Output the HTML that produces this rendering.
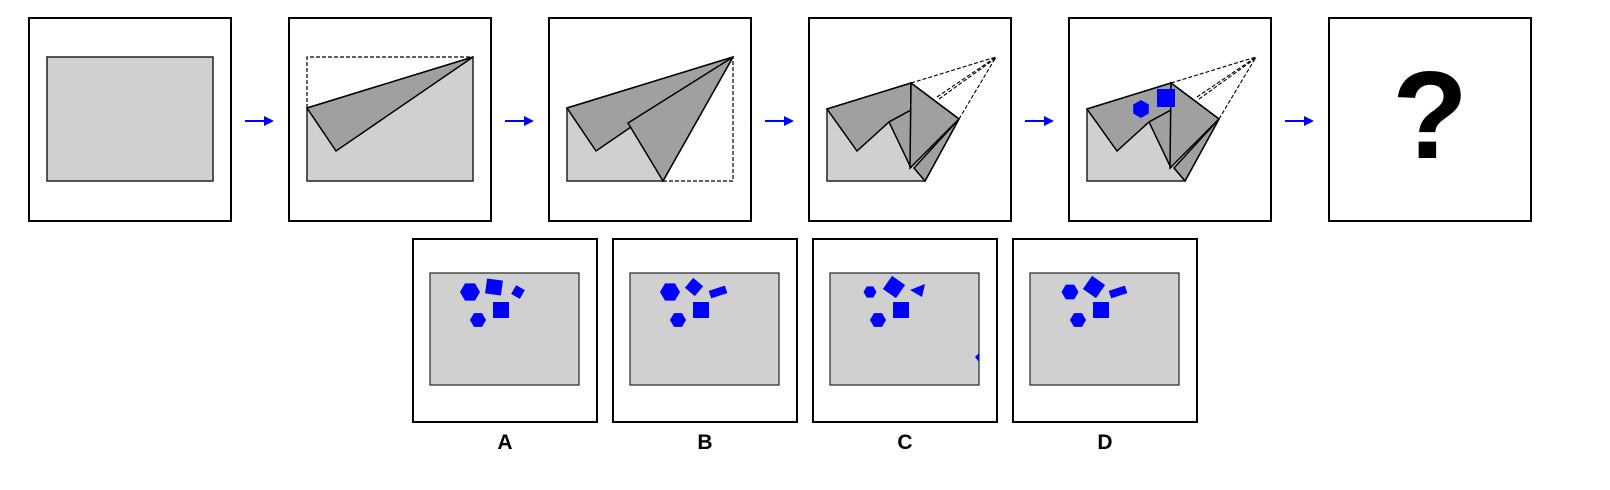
<!DOCTYPE html>
<html><head><meta charset="utf-8"><style>
html,body{margin:0;padding:0;background:#fff;width:1610px;height:490px;overflow:hidden}
svg{display:block}
text{font-family:"Liberation Sans",sans-serif;font-weight:bold}
</style></head><body>
<svg width="1610" height="490" viewBox="0 0 1610 490" id="fig">
<defs>
<marker id="ah" markerWidth="10" markerHeight="10" refX="8" refY="5" orient="auto" markerUnits="userSpaceOnUse"><path d="M0,0 L10,5 L0,10 z" fill="#0000ff"/></marker>
</defs>
<g id="topg"></g>
<g id="bottomg"></g>
</svg>
<script>
const NS='http://www.w3.org/2000/svg';
const topG=document.getElementById('topg'), botG=document.getElementById('bottomg');
function mk(tag,attrs,parent){const e=document.createElementNS(NS,tag);for(const k in attrs)e.setAttribute(k,attrs[k]);parent.appendChild(e);return e;}
function pts(ox,oy,arr){return arr.map(p=>(ox+p[0])+','+(oy+p[1])).join(' ');}
const LIGHT='#d0d0d0', DARK='#a0a0a0';
const panelX=[29,289,549,809,1069,1329];
panelX.forEach((px,i)=>{
  const g=mk('g',{},topG);
  
  
  mk('rect',{x:px,y:18,width:202,height:203,fill:'#fff',stroke:'#000','stroke-width':2},g);
  const ox=px+18, oy=57, W=166, H=124;
  if(i===0){mk('rect',{x:ox,y:oy,width:W,height:H,fill:LIGHT,stroke:'#222','stroke-width':1.5},g);}
  if(i===1){
    mk('polygon',{points:pts(ox,oy,[[0,51],[W,0],[W,H],[0,H]]),fill:LIGHT,stroke:'#222','stroke-width':1.5},g);
    mk('polyline',{points:pts(ox,oy,[[0,51],[0,0],[W,0]]),fill:'none',stroke:'#000','stroke-dasharray':'4,2','stroke-width':1.2},g);
    mk('polygon',{points:pts(ox,oy,[[0,51],[W,0],[29,94]]),fill:DARK,stroke:'#000','stroke-width':1.5},g);
  }
  if(i===2){
    mk('polygon',{points:pts(ox,oy,[[0,51],[W,0],[96,H],[0,H]]),fill:LIGHT,stroke:'#222','stroke-width':1.5},g);
    mk('polyline',{points:pts(ox,oy,[[96,H],[W,H],[W,0]]),fill:'none',stroke:'#000','stroke-dasharray':'4,2','stroke-width':1.2},g);
    mk('polygon',{points:pts(ox,oy,[[0,51],[W,0],[29,94]]),fill:DARK,stroke:'#000','stroke-width':1.5},g);
    mk('polygon',{points:pts(ox,oy,[[61,66],[W,0],[96,H]]),fill:DARK,stroke:'#000','stroke-width':1.5},g);
  }
  if(i===3||i===4){
    mk('polygon',{points:pts(ox,oy,[[0,52],[84,26],[132,62],[98,H],[0,H]]),fill:LIGHT,stroke:'#222','stroke-width':1.5},g);
    [[[84,26],[169,0]],[[132,62],[169,0]],[[110,40],[169,0]],[[112,42],[169,1]]].forEach(l=>{
      mk('line',{x1:ox+l[0][0],y1:oy+l[0][1],x2:ox+l[1][0],y2:oy+l[1][1],stroke:'#000','stroke-dasharray':'4,2','stroke-width':1.1},g);
    });
    mk('polygon',{points:pts(ox,oy,[[0,52],[84,26],[84,53],[62,65],[30,94]]),fill:DARK,stroke:'#000','stroke-width':1.5},g);
    mk('polygon',{points:pts(ox,oy,[[87,111],[132,62],[98,H]]),fill:DARK,stroke:'#000','stroke-width':1.5},g);
    mk('polygon',{points:pts(ox,oy,[[62,65],[84,53],[84,111]]),fill:DARK,stroke:'#000','stroke-width':1.5},g);
    mk('polygon',{points:pts(ox,oy,[[84,26],[132,62],[83,111]]),fill:DARK,stroke:'#000','stroke-width':1.5},g);
    if(i===4){
      const hx=ox+54,hy=oy+52,r=9;const hp=[];for(let k=0;k<6;k++){const a=Math.PI/6+k*Math.PI/3;hp.push([hx+r*Math.cos(a),hy+r*Math.sin(a)]);}
      const h=mk('polygon',{points:hp.map(p=>p.join(',')).join(' '),fill:'#0000ff'},g);
      
      
      const s=mk('rect',{x:ox+70,y:oy+32,width:18,height:18,fill:'#0000ff'},g);
      
      
    }
  }
  if(i===5){
    const t=mk('text',{x:px+101,y:158,'text-anchor':'middle','font-size':124,fill:'#000'},g);
    t.textContent='?';
    
    
  }
  if(i<5){
    const a=mk('line',{x1:px+216,y1:121,x2:px+243,y2:121,stroke:'#0000ff','stroke-width':2,'marker-end':'url(#ah)'},topG);
    
    
  }
});
const optX=[413,613,813,1013], labels=['A','B','C','D'];
function hex(g,cx,cy,r){const hp=[];for(let k=0;k<6;k++){const a=k*Math.PI/3;hp.push([cx+r*Math.cos(a),cy+r*Math.sin(a)]);}return mk('polygon',{points:hp.map(p=>p.join(',')).join(' '),fill:'#0000ff'},g);}
function sq(g,cx,cy,w,h,rot){return mk('rect',{x:cx-w/2,y:cy-h/2,width:w,height:h,fill:'#0000ff',transform:`rotate(${rot} ${cx} ${cy})`},g);}
optX.forEach((px,i)=>{
  const g=mk('g',{},botG);
  
  
  mk('rect',{x:px,y:239,width:184,height:183,fill:'#fff',stroke:'#000','stroke-width':2},g);
  const ox=px+17, oy=273;
  mk('rect',{x:ox,y:oy,width:149,height:112,fill:LIGHT,stroke:'#333','stroke-width':1.3},g);
  sq(g,ox+71,oy+37,16,16,0);
  hex(g,ox+48,oy+47,8);
  if(i===0){hex(g,ox+40,oy+19,10);sq(g,ox+64,oy+14,16,15,8);sq(g,ox+88,oy+19,10,10,30);}
  if(i===1){hex(g,ox+40,oy+19,10);sq(g,ox+64,oy+14,13,13,40);sq(g,ox+88,oy+19,17,8,-18);}
  if(i===2){hex(g,ox+40,oy+19,6.5);sq(g,ox+64,oy+14,16,16,35);
    mk('polygon',{points:pts(ox,oy,[[80,17],[95,11],[92,24]]),fill:'#0000ff'},g);
    mk('polygon',{points:pts(ox,oy,[[149,80],[145,84],[149,89]]),fill:'#0000ff'},g);}
  if(i===3){hex(g,ox+40,oy+19,8.5);sq(g,ox+64,oy+14,16,16,35);sq(g,ox+88,oy+19,17,8,-18);}
  const t=mk('text',{x:px+92,y:449,'text-anchor':'middle','font-size':21,fill:'#000'},g);
  t.textContent=labels[i];
  
  
});
</script>
</body></html>
